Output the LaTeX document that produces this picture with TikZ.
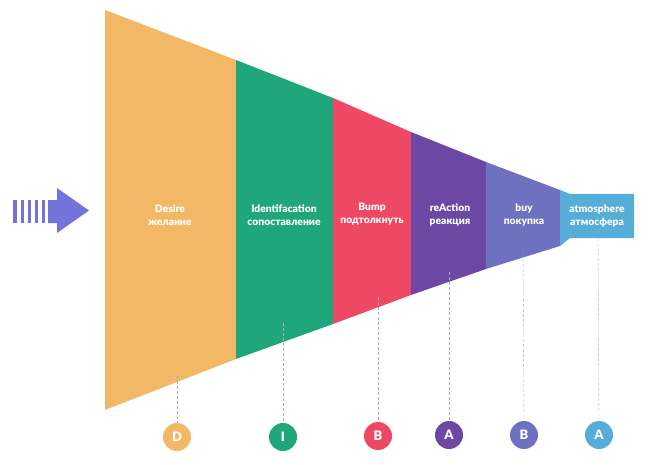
\documentclass[tikz,border=0pt]{standalone}
\usepackage{fontspec}
\setmainfont{Lato}[BoldFont={Lato Black}]
\usepackage{xcolor}
\usepackage{tikz}
\definecolor{cdes}{HTML}{F3B866}
\definecolor{cid}{HTML}{1FA67A}
\definecolor{cbump}{HTML}{EE4865}
\definecolor{cact}{HTML}{6B48A4}
\definecolor{cbuy}{HTML}{6E70C0}
\definecolor{catm}{HTML}{55ADD8}
\definecolor{carrow}{HTML}{7274DC}

\begin{document}
\begin{tikzpicture}[x=1pt,y=-1pt,
 lbl/.style={text=white,font=\bfseries\fontsize{10.3}{12.5}\selectfont,align=center,inner sep=0pt},
 badge/.style={circle,minimum size=28pt,inner sep=0pt,text=white,font=\bfseries\fontsize{13}{13}\selectfont},
 leader/.style={gray!65,densely dashed,thin}]
\useasboundingbox (0,0) rectangle (650,465);
% funnel segments
\foreach \xa/\ta/\ba/\xb/\tb/\bb/\c in {105/10/410/236/60/359/cdes,
 236/60/359/333/98/324/cid, 333/98/324/411/132/295/cbump,
 411/132/295/486/162/269/cact, 486/162/269/560/190/246/cbuy}
 \fill[\c] (\xa,\ta) -- (\xb,\tb) -- (\xb,\bb) -- (\xa,\ba) -- cycle;
\fill[catm] (560,190) -- (570,194) -- (634,194) -- (634,238) -- (570,238) -- (560,246) -- cycle;
% arrow
\foreach \x in {13,20.5,27.5,34.5,41.5}
 \fill[carrow] (\x,200) rectangle ++(3.8,23);
\fill[carrow] (48,200) -- (57,200) -- (57,188) -- (89,210.5) -- (57,233) -- (57,223) -- (48,223) -- cycle;
% labels
\node[lbl] (des) at (170,215) {Desire\\желание};
\node[lbl] (ide) at (284,215) {Identifacation\\сопоставление};
\node[lbl] (bmp) at (372,214) {Bump\\подтолкнуть};
\node[lbl] (act) at (450,215) {reAction\\реакция};
\node[lbl] (buy) at (524,215) {buy\\покупка};
\node[lbl] (atm) at (597,216) {atmosphere\\атмосфера};
% badges
\coordinate (t1) at (177,376);
\coordinate (t2) at (283,323);
\coordinate (t3) at (378,297);
\coordinate (t4) at (449,272);
\coordinate (t5) at (523,249);
\coordinate (t6) at (598,238);
\node[badge,fill=cdes] (b1) at (177,437) {D};
\node[badge,fill=cid] (b2) at (283,437) {I};
\node[badge,fill=cbump] (b3) at (378,436) {B};
\node[badge,fill=cact] (b4) at (449,435) {A};
\node[badge,fill=cbuy] (b5) at (524,435) {B};
\node[badge,fill=catm] (b6) at (599,435) {A};
\foreach \i in {1,...,6}
 \draw[leader] (t\i) -- (b\i.north);
\end{tikzpicture}
\end{document}
